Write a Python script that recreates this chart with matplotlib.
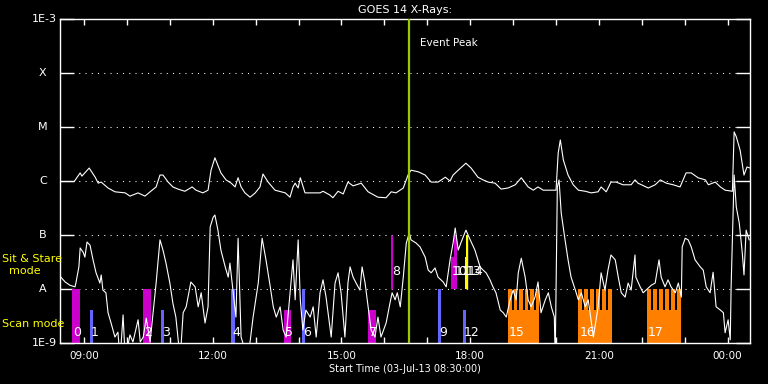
import matplotlib
matplotlib.use('Agg')
import matplotlib.pyplot as plt
import numpy as np

# GOES 14 x-ray flux, 03-Jul-13, time in hours (24+ = next day), log10 flux (W/m^2)
long_t = [8.46, 8.77, 8.91, 8.95, 9.12, 9.26, 9.33, 9.40, 9.56, 9.72, 9.96, 10.07, 10.26, 10.42,
          10.54, 10.68, 10.77, 10.84, 10.96, 11.07, 11.19, 11.35, 11.52, 11.61, 11.77, 11.89, 11.96,
          12.05, 12.19, 12.31, 12.43, 12.52, 12.59, 12.66, 12.75, 12.87, 12.99, 13.10, 13.17, 13.29,
          13.45, 13.69, 13.80, 13.87, 13.92, 13.99, 14.04, 14.15, 14.50, 14.57, 14.73, 14.80, 14.92,
          15.04, 15.15, 15.27, 15.46, 15.62, 15.85, 16.04, 16.16, 16.27, 16.44, 16.55, 16.62, 16.79,
          16.95, 17.09, 17.25, 17.42, 17.53, 17.60, 17.72, 17.90, 18.02, 18.18, 18.30, 18.42, 18.58,
          18.72, 18.88, 19.05, 19.19, 19.35, 19.47, 19.58, 19.70, 20.00, 20.05, 20.10, 20.17, 20.28,
          20.40, 20.52, 20.68, 20.82, 20.98, 21.05, 21.17, 21.28, 21.40, 21.56, 21.75, 21.84, 21.91,
          22.15, 22.31, 22.43, 22.57, 22.73, 22.89, 23.03, 23.15, 23.31, 23.48, 23.55, 23.71, 23.83,
          23.94, 24.11, 24.15, 24.20, 24.29, 24.38, 24.45, 24.52]
long_logf = [-6.01, -6.01, -5.85, -5.91, -5.76, -5.93, -6.04, -6.02, -6.13, -6.20, -6.22, -6.28, -6.22, -6.28,
             -6.20, -6.11, -5.89, -5.89, -6.02, -6.11, -6.15, -6.19, -6.11, -6.17, -6.22, -6.17, -5.80,
             -5.57, -5.85, -5.98, -6.04, -6.11, -5.94, -6.11, -6.22, -6.30, -6.22, -6.11, -5.87, -6.02,
             -6.17, -6.22, -6.30, -6.11, -6.04, -6.13, -5.94, -6.22, -6.22, -6.19, -6.26, -6.31, -6.19,
             -6.24, -6.02, -6.09, -6.04, -6.20, -6.30, -6.31, -6.20, -6.22, -6.13, -5.89, -5.80, -5.83,
             -5.89, -6.02, -6.02, -5.93, -6.00, -5.89, -5.80, -5.67, -5.76, -5.93, -5.98, -6.02, -6.04,
             -6.15, -6.13, -6.07, -5.94, -6.11, -6.17, -6.11, -6.17, -6.17, -5.48, -5.24, -5.61, -5.89,
             -6.07, -6.17, -6.19, -6.22, -6.20, -6.11, -6.20, -6.02, -6.02, -6.07, -6.07, -5.98, -6.04,
             -6.13, -6.07, -5.98, -6.04, -6.07, -6.11, -5.85, -5.85, -5.94, -5.98, -6.07, -6.02, -6.11,
             -6.17, -6.19, -5.09, -5.18, -5.43, -5.89, -5.74, -5.76]

short_t = [8.46, 8.56, 8.67, 8.79, 8.81, 8.88, 8.91, 8.98, 9.02, 9.07, 9.14, 9.21, 9.28, 9.37, 9.40,
           9.44, 9.51, 9.56, 9.63, 9.72, 9.79, 9.84, 9.91, 9.96, 10.07, 10.14, 10.26, 10.31, 10.38,
           10.45, 10.54, 10.61, 10.68, 10.77, 10.84, 10.91, 11.00, 11.07, 11.14, 11.24, 11.31, 11.38,
           11.47, 11.49, 11.59, 11.66, 11.73, 11.82, 11.89, 11.94, 12.01, 12.05, 12.12, 12.19, 12.29,
           12.36, 12.40, 12.47, 12.54, 12.59, 12.66, 12.82, 12.94, 13.06, 13.15, 13.24, 13.34, 13.41,
           13.48, 13.57, 13.64, 13.71, 13.87, 13.92, 13.99, 14.04, 14.10, 14.17, 14.27, 14.34, 14.41,
           14.50, 14.57, 14.64, 14.73, 14.76, 14.85, 14.92, 14.99, 15.08, 15.15, 15.20, 15.27, 15.34,
           15.43, 15.48, 15.55, 15.62, 15.69, 15.78, 15.85, 15.92, 16.04, 16.13, 16.18, 16.25, 16.30,
           16.37, 16.44, 16.51, 16.58, 16.62, 16.74, 16.83, 16.95, 17.02, 17.09, 17.18, 17.25, 17.37,
           17.44, 17.53, 17.60, 17.65, 17.72, 17.79, 17.90, 18.00, 18.11, 18.23, 18.30, 18.37, 18.46,
           18.53, 18.60, 18.70, 18.77, 18.84, 18.93, 19.00, 19.07, 19.12, 19.19, 19.28, 19.35, 19.42,
           19.51, 19.58, 19.65, 19.75, 19.82, 19.89, 19.96, 19.98, 20.03, 20.07, 20.12, 20.21, 20.28,
           20.35, 20.45, 20.52, 20.59, 20.68, 20.75, 20.87, 20.98, 21.05, 21.14, 21.21, 21.28, 21.38,
           21.45, 21.52, 21.61, 21.68, 21.75, 21.84, 21.86, 21.96, 22.03, 22.15, 22.22, 22.31, 22.40,
           22.45, 22.54, 22.61, 22.68, 22.78, 22.85, 22.92, 22.94, 23.01, 23.08, 23.15, 23.24, 23.36,
           23.43, 23.50, 23.59, 23.66, 23.73, 23.83, 23.90, 23.94, 24.01, 24.06, 24.08, 24.15, 24.20,
           24.27, 24.34, 24.38, 24.43, 24.50]
short_logf = [-7.78, -7.87, -7.93, -7.96, -7.89, -7.59, -7.24, -7.32, -7.41, -7.13, -7.19, -7.46, -7.70, -7.89, -7.74,
              -8.02, -8.07, -8.44, -8.63, -8.89, -8.80, -9.3, -8.48, -9.3, -8.85, -8.98, -8.57, -8.98, -8.89,
              -8.54, -8.98, -8.44, -7.89, -7.09, -7.28, -7.52, -7.89, -8.26, -8.52, -9.3, -8.44, -8.33,
              -7.96, -7.87, -7.96, -8.33, -8.07, -8.63, -8.33, -6.85, -6.67, -6.63, -6.91, -7.28, -7.59,
              -7.78, -7.52, -8.02, -8.52, -7.06, -8.89, -9.3, -8.52, -7.89, -7.06, -7.46, -7.96, -8.33,
              -8.52, -8.33, -8.76, -8.89, -7.46, -8.20, -7.09, -8.20, -8.76, -8.39, -8.52, -8.33, -8.89,
              -8.07, -7.83, -8.15, -8.70, -8.89, -7.89, -7.70, -8.07, -8.89, -7.89, -7.59, -7.78, -7.89,
              -8.02, -7.59, -7.89, -8.33, -8.76, -8.89, -8.52, -8.89, -8.63, -8.26, -8.07, -8.20, -8.07,
              -8.33, -7.78, -7.15, -6.96, -7.09, -7.15, -7.22, -7.41, -7.65, -7.70, -7.61, -7.78, -7.87,
              -7.96, -7.46, -7.15, -6.87, -7.28, -7.13, -6.91, -7.09, -7.28, -7.59, -7.65, -7.70, -7.83,
              -7.96, -8.07, -8.39, -8.44, -8.52, -8.20, -8.02, -8.20, -7.70, -7.43, -7.78, -8.20, -8.33,
              -8.15, -7.87, -8.44, -8.20, -8.07, -8.33, -8.52, -9.3, -6.11, -5.98, -6.59, -7.09, -7.46,
              -7.78, -8.02, -8.20, -8.07, -8.33, -8.20, -8.89, -8.33, -7.70, -8.02, -7.65, -7.37, -7.46,
              -7.78, -8.07, -8.15, -7.89, -8.02, -7.37, -7.78, -7.96, -8.07, -7.98, -7.93, -7.89, -7.46,
              -7.78, -7.96, -7.83, -7.96, -8.07, -7.89, -8.15, -7.22, -7.06, -7.09, -7.22, -7.46, -7.59,
              -7.65, -7.96, -8.07, -7.69, -8.33, -8.39, -8.44, -8.81, -8.57, -8.94, -7.96, -5.89, -6.48,
              -6.78, -7.33, -7.74, -6.91, -7.09]

# observation timeline (hours), bar extent in log10 units
obs_id = ['0', '1', '2', '3', '4', '5', '6', '7', '8', '9', '10', '11', '12', '13', '14', '15', '16', '17']
obs_start = [8.72, 9.14, 10.38, 10.79, 12.43, 13.66, 14.08, 15.62, 16.16, 17.25, 17.55, 17.62,
             17.83, 17.88, 17.91, 18.88, 20.52, 22.12]
obs_end = [8.91, 9.21, 10.56, 10.86, 12.52, 13.83, 14.15, 15.81, 16.18, 17.32, 17.62, 17.69,
           17.90, 17.95, 17.93, 19.61, 21.31, 22.92]
obs_lo = [-9, -9, -9, -9, -9, -9, -9, -9, -8, -9, -8, -8, -9, -8, -8, -9, -9, -9]
obs_hi = [-8, -8.39, -8, -8.39, -8, -8.39, -8, -8.39, -7, -8, -7.4, -7, -8.39, -7.4, -7, -8.39, -8.39, -8.39]
obs_kind = ['m', 'b', 'm', 'b', 'b', 'm', 'b', 'm', 'm', 'b', 'm', 'm', 'b', 'y', 'y', 'o', 'o', 'o']

event_peak = 16.58

kind_color = {'m': '#cc00cc', 'b': '#6464ff', 'y': '#ffff00', 'o': '#ff8000'}

fig = plt.figure(figsize=(7.68, 3.84), dpi=100, facecolor='black')
ax = fig.add_axes([60/768, 41/384, 690/768, 324/384], facecolor='black')
ax.set_yscale('log')
ax.set_xlim(8.44, 24.52)
ax.set_ylim(1e-9, 1e-3)

# observation bars
for i in range(len(obs_id)):
    c = kind_color[obs_kind[i]]
    x0, x1 = obs_start[i], obs_end[i]
    lo, hi = 10**obs_lo[i], 10**obs_hi[i]
    ax.fill_between([x0, x1], lo, hi, color=c, lw=0, zorder=2)
    if obs_kind[i] == 'o':
        # raster: six teeth reaching up to A level
        w = x1 - x0
        gap = w*0.06
        tw = (w - 5*gap)/6
        for k in range(6):
            a = x0 + k*(tw + gap)
            ax.fill_between([a, a + tw], hi, 1e-8, color=c, lw=0, zorder=2)
    if x1 - x0 < 0.03:
        ax.vlines((x0 + x1)/2, lo, hi, color=c, lw=1, zorder=2)
    ly = 10**(obs_lo[i] + (0.07 if obs_lo[i] == -9 else 0.21))
    ax.text(x0 + 0.02, ly, obs_id[i], color='white', fontsize=9, ha='left', va='bottom', zorder=5)

# dotted class lines
for lev in [1e-8, 1e-7, 1e-6, 1e-5, 1e-4]:
    ax.axhline(lev, color='white', lw=0.75, ls=(0, (1, 5)), zorder=1)

ax.plot(long_t, 10**np.array(long_logf), color='white', lw=0.8, zorder=3)
ax.plot(short_t, 10**np.array(short_logf), color='white', lw=0.8, zorder=3)

ax.axvline(event_peak, color='#99cc00', lw=1.6, zorder=4)
ax.text(event_peak + 0.25, 10**-3.45, 'Event Peak', color='white', fontsize=7.5, va='center')

# axes styling
for s in ax.spines.values():
    s.set_color('white')
    s.set_linewidth(1)
ax.set_yticks([1e-9, 1e-8, 1e-7, 1e-6, 1e-5, 1e-4, 1e-3])
ax.set_yticklabels([])
ax.yaxis.set_minor_locator(matplotlib.ticker.NullLocator())
ax.tick_params(axis='y', which='major', direction='in', length=10, width=1, color='white',
               left=True, right=True)
ax.set_xticks([9, 12, 15, 18, 21, 24])
ax.set_xticklabels(['09:00', '12:00', '15:00', '18:00', '21:00', '00:00'])
ax.set_xticks(np.arange(10, 25, 1), minor=True)
ax.tick_params(axis='x', which='both', direction='in', length=4, width=1, color='white',
               top=True, bottom=True, labelcolor='white', labelsize=7.5, pad=6)

ylab = ['1E-9', 'A', 'B', 'C', 'M', 'X', '1E-3']
for k, lab in enumerate(ylab):
    if lab.startswith('1E'):
        ax.text(-0.004, 10.0**(-9 + k), lab, color='white', fontsize=8, ha='right', va='center',
                transform=ax.get_yaxis_transform())
    else:
        ax.text(-0.025, 10.0**(-9 + k), lab, color='white', fontsize=8, ha='center', va='center',
                transform=ax.get_yaxis_transform())

ax.set_title('GOES 14 X-Rays:', color='white', fontsize=8, pad=4)
ax.set_xlabel('Start Time (03-Jul-13 08:30:00)', color='white', fontsize=7, labelpad=2)

fig.text(2/768, 1 - 259/384, 'Sit & Stare', color='yellow', fontsize=8, va='center')
fig.text(25/768, 1 - 271/384, 'mode', color='yellow', fontsize=8, va='center', ha='center')
fig.text(2/768, 1 - 324/384, 'Scan mode', color='yellow', fontsize=8, va='center')

fig.savefig('out.png', dpi=100, facecolor='black')
